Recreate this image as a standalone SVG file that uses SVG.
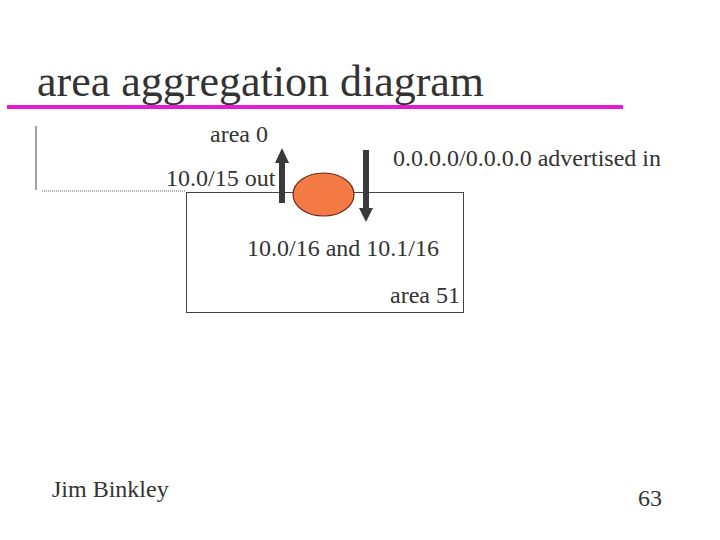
<svg xmlns="http://www.w3.org/2000/svg" width="720" height="540" viewBox="0 0 720 540">
<style>
text{font-family:"Liberation Serif","Times New Roman",serif;fill:#333}
.t{font-size:24px}
</style>
<rect width="720" height="540" fill="#fff"/>
<text x="37" y="96" style="font-size:44px">area aggregation diagram</text>
<line x1="7" y1="107" x2="623" y2="107" stroke="#e619d6" stroke-width="4"/>
<line x1="36" y1="126" x2="36" y2="190" stroke="#444" stroke-width="1"/>
<line x1="42" y1="191" x2="186" y2="191" stroke="#666" stroke-width="1" stroke-dasharray="1,1"/>
<g id="area51">
<rect x="186.5" y="192.5" width="277" height="120" fill="none" stroke="#444" stroke-width="1"/>
<text class="t" x="390" y="303">area 51</text>
</g>
<g id="router">
<ellipse cx="323.5" cy="194.5" rx="30.5" ry="21.5" fill="#f47a45" stroke="#6b2a18" stroke-width="1.2"/>
</g>
<g id="connectors">
<rect x="279" y="162" width="6" height="41" fill="#3a3a3a"/>
<polygon points="275,163 289,163 282,148" fill="#3a3a3a"/>
<rect x="363" y="150" width="6" height="59" fill="#3a3a3a"/>
<polygon points="359,208 373,208 366,222" fill="#3a3a3a"/>
</g>
<g id="labels">
<text class="t" x="210" y="142">area 0</text>
<text class="t" x="166" y="186">10.0/15 out</text>
<text class="t" x="393" y="166">0.0.0.0/0.0.0.0 advertised in</text>
<text class="t" x="247" y="256">10.0/16 and 10.1/16</text>
</g>
<text class="t" x="52" y="497">Jim Binkley</text>
<text class="t" x="638" y="506">63</text>
</svg>
